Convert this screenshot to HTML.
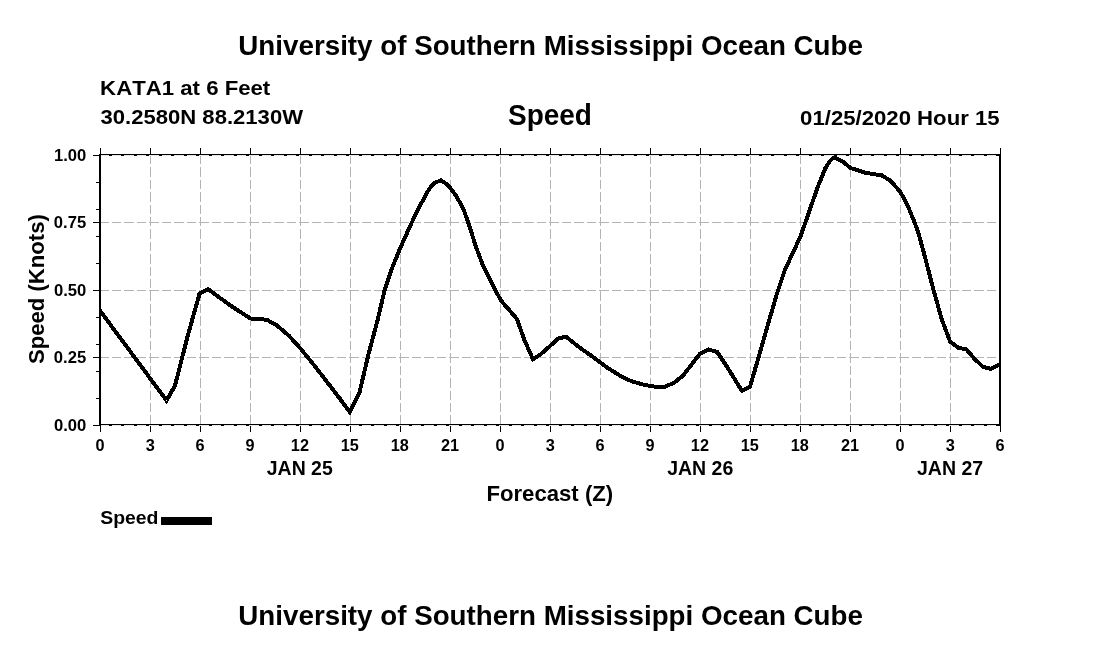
<!DOCTYPE html>
<html><head><meta charset="utf-8">
<style>
html,body{margin:0;padding:0;background:#fff;}
body{width:1100px;height:650px;overflow:hidden;position:relative;font-family:"Liberation Sans",sans-serif;}
svg{position:absolute;left:0;top:0;will-change:transform;}
text{font-family:"Liberation Sans",sans-serif;font-weight:bold;fill:#000;font-kerning:none;white-space:pre;}
.ax{shape-rendering:crispEdges;}
</style></head><body>
<svg width="1100" height="650" viewBox="0 0 1100 650">
<rect width="1100" height="650" fill="#fff"/>
<text id="t1" x="238.33" y="55" font-size="28.5" textLength="624.62" lengthAdjust="spacingAndGlyphs">University of Southern Mississippi Ocean Cube</text>
<text id="t2" x="238.33" y="624.9" font-size="28.5" textLength="624.62" lengthAdjust="spacingAndGlyphs">University of Southern Mississippi Ocean Cube</text>
<text id="l1" x="100.12" y="94.5" font-size="19.8" textLength="170.16" lengthAdjust="spacingAndGlyphs">KATA1 at 6 Feet</text>
<text id="l2" x="100.49" y="124.1" font-size="19.8" textLength="202.53" lengthAdjust="spacingAndGlyphs">30.2580N 88.2130W</text>
<text id="c1" transform="translate(507.99,125.1) scale(1,1.04)" font-size="28.5" textLength="83.95" lengthAdjust="spacingAndGlyphs">Speed</text>
<text id="r1" x="800.12" y="124.6" font-size="19.8" textLength="199.49" lengthAdjust="spacingAndGlyphs">01/25/2020 Hour 15</text>
<text id="yl" transform="translate(44.0,364.04) rotate(-90)" font-size="22" textLength="149.94" lengthAdjust="spacingAndGlyphs">Speed (Knots)</text>
<text id="xl" transform="translate(486.47,500.6) scale(1,1.04)" font-size="22" textLength="126.68" lengthAdjust="spacingAndGlyphs">Forecast (Z)</text>
<text id="lg" transform="translate(100.24,524.0) scale(1,1.06)" font-size="18" textLength="58.24" lengthAdjust="spacingAndGlyphs">Speed</text>
<g class="ax" stroke="#b4b4b4" stroke-width="1" fill="none">
<g stroke-dasharray="9.3 3.1">
<line x1="150.5" y1="155" x2="150.5" y2="425"/>
<line x1="200.5" y1="155" x2="200.5" y2="425"/>
<line x1="250.5" y1="155" x2="250.5" y2="425"/>
<line x1="300.5" y1="155" x2="300.5" y2="425"/>
<line x1="350.5" y1="155" x2="350.5" y2="425"/>
<line x1="400.5" y1="155" x2="400.5" y2="425"/>
<line x1="450.5" y1="155" x2="450.5" y2="425"/>
<line x1="500.5" y1="155" x2="500.5" y2="425"/>
<line x1="550.5" y1="155" x2="550.5" y2="425"/>
<line x1="600.5" y1="155" x2="600.5" y2="425"/>
<line x1="650.5" y1="155" x2="650.5" y2="425"/>
<line x1="700.5" y1="155" x2="700.5" y2="425"/>
<line x1="750.5" y1="155" x2="750.5" y2="425"/>
<line x1="800.5" y1="155" x2="800.5" y2="425"/>
<line x1="850.5" y1="155" x2="850.5" y2="425"/>
<line x1="900.5" y1="155" x2="900.5" y2="425"/>
<line x1="950.5" y1="155" x2="950.5" y2="425"/>
</g><g stroke-dasharray="9.4 3.1">
<line x1="99.2" y1="222.5" x2="1000" y2="222.5"/>
<line x1="99.2" y1="290.5" x2="1000" y2="290.5"/>
<line x1="99.2" y1="357.5" x2="1000" y2="357.5"/>
</g></g>
<g class="ax" fill="#000">
<rect x="99" y="154" width="902" height="2"/>
<rect x="99" y="424" width="902" height="2"/>
<rect x="99" y="154" width="2" height="272"/>
<rect x="999" y="154" width="2" height="272"/>
<rect x="100" y="148" width="1" height="6"/>
<rect x="100" y="425" width="1" height="7"/>
<rect x="150" y="148" width="1" height="6"/>
<rect x="150" y="425" width="1" height="7"/>
<rect x="200" y="148" width="1" height="6"/>
<rect x="200" y="425" width="1" height="7"/>
<rect x="250" y="148" width="1" height="6"/>
<rect x="250" y="425" width="1" height="7"/>
<rect x="300" y="148" width="1" height="6"/>
<rect x="300" y="425" width="1" height="7"/>
<rect x="350" y="148" width="1" height="6"/>
<rect x="350" y="425" width="1" height="7"/>
<rect x="400" y="148" width="1" height="6"/>
<rect x="400" y="425" width="1" height="7"/>
<rect x="450" y="148" width="1" height="6"/>
<rect x="450" y="425" width="1" height="7"/>
<rect x="500" y="148" width="1" height="6"/>
<rect x="500" y="425" width="1" height="7"/>
<rect x="550" y="148" width="1" height="6"/>
<rect x="550" y="425" width="1" height="7"/>
<rect x="600" y="148" width="1" height="6"/>
<rect x="600" y="425" width="1" height="7"/>
<rect x="650" y="148" width="1" height="6"/>
<rect x="650" y="425" width="1" height="7"/>
<rect x="700" y="148" width="1" height="6"/>
<rect x="700" y="425" width="1" height="7"/>
<rect x="750" y="148" width="1" height="6"/>
<rect x="750" y="425" width="1" height="7"/>
<rect x="800" y="148" width="1" height="6"/>
<rect x="800" y="425" width="1" height="7"/>
<rect x="850" y="148" width="1" height="6"/>
<rect x="850" y="425" width="1" height="7"/>
<rect x="900" y="148" width="1" height="6"/>
<rect x="900" y="425" width="1" height="7"/>
<rect x="950" y="148" width="1" height="6"/>
<rect x="950" y="425" width="1" height="7"/>
<rect x="1000" y="148" width="1" height="6"/>
<rect x="1000" y="425" width="1" height="7"/>
<rect x="96" y="425" width="3" height="1"/>
<rect x="96" y="398" width="3" height="1"/>
<rect x="96" y="371" width="3" height="1"/>
<rect x="96" y="344" width="3" height="1"/>
<rect x="96" y="317" width="3" height="1"/>
<rect x="96" y="290" width="3" height="1"/>
<rect x="96" y="263" width="3" height="1"/>
<rect x="96" y="236" width="3" height="1"/>
<rect x="96" y="209" width="3" height="1"/>
<rect x="96" y="182" width="3" height="1"/>
<rect x="96" y="155" width="3" height="1"/>
<rect x="93" y="425" width="6" height="1"/>
<rect x="93" y="357" width="6" height="1"/>
<rect x="93" y="290" width="6" height="1"/>
<rect x="93" y="222" width="6" height="1"/>
<rect x="93" y="155" width="6" height="1"/>
</g>
<g class="ax" stroke="#e8e8e8" stroke-width="1" stroke-dasharray="9.4 3.1" fill="none">
<line x1="101" y1="155.5" x2="999" y2="155.5" stroke-dashoffset="1.8"/>
<line x1="101" y1="425.5" x2="999" y2="425.5" stroke-dashoffset="1.8"/>
</g>
<text x="54.01" y="430.9" font-size="16.8" textLength="32.37" lengthAdjust="spacingAndGlyphs">0.00</text>
<text x="53.79" y="362.9" font-size="16.8" textLength="32.37" lengthAdjust="spacingAndGlyphs">0.25</text>
<text x="54.01" y="295.9" font-size="16.8" textLength="32.37" lengthAdjust="spacingAndGlyphs">0.50</text>
<text x="53.79" y="227.9" font-size="16.8" textLength="32.37" lengthAdjust="spacingAndGlyphs">0.75</text>
<text x="54.01" y="160.9" font-size="16.8" textLength="32.37" lengthAdjust="spacingAndGlyphs">1.00</text>
<text x="95.58" y="450.8" font-size="16.8" textLength="9.06" lengthAdjust="spacingAndGlyphs">0</text>
<text x="145.68" y="450.8" font-size="16.8" textLength="9.06" lengthAdjust="spacingAndGlyphs">3</text>
<text x="195.56" y="450.8" font-size="16.8" textLength="9.06" lengthAdjust="spacingAndGlyphs">6</text>
<text x="245.59" y="450.8" font-size="16.8" textLength="9.06" lengthAdjust="spacingAndGlyphs">9</text>
<text x="290.85" y="450.8" font-size="16.8" textLength="18.13" lengthAdjust="spacingAndGlyphs">12</text>
<text x="340.75" y="450.8" font-size="16.8" textLength="18.13" lengthAdjust="spacingAndGlyphs">15</text>
<text x="390.77" y="450.8" font-size="16.8" textLength="18.13" lengthAdjust="spacingAndGlyphs">18</text>
<text x="440.98" y="450.8" font-size="16.8" textLength="18.13" lengthAdjust="spacingAndGlyphs">21</text>
<text x="495.58" y="450.8" font-size="16.8" textLength="9.06" lengthAdjust="spacingAndGlyphs">0</text>
<text x="545.68" y="450.8" font-size="16.8" textLength="9.06" lengthAdjust="spacingAndGlyphs">3</text>
<text x="595.56" y="450.8" font-size="16.8" textLength="9.06" lengthAdjust="spacingAndGlyphs">6</text>
<text x="645.59" y="450.8" font-size="16.8" textLength="9.06" lengthAdjust="spacingAndGlyphs">9</text>
<text x="690.85" y="450.8" font-size="16.8" textLength="18.13" lengthAdjust="spacingAndGlyphs">12</text>
<text x="740.75" y="450.8" font-size="16.8" textLength="18.13" lengthAdjust="spacingAndGlyphs">15</text>
<text x="790.77" y="450.8" font-size="16.8" textLength="18.13" lengthAdjust="spacingAndGlyphs">18</text>
<text x="840.98" y="450.8" font-size="16.8" textLength="18.13" lengthAdjust="spacingAndGlyphs">21</text>
<text x="895.58" y="450.8" font-size="16.8" textLength="9.06" lengthAdjust="spacingAndGlyphs">0</text>
<text x="945.68" y="450.8" font-size="16.8" textLength="9.06" lengthAdjust="spacingAndGlyphs">3</text>
<text x="995.56" y="450.8" font-size="16.8" textLength="9.06" lengthAdjust="spacingAndGlyphs">6</text>
<text x="266.81" y="475" font-size="20" textLength="65.94" lengthAdjust="spacingAndGlyphs">JAN 25</text>
<text x="667.15" y="475" font-size="20" textLength="66.1" lengthAdjust="spacingAndGlyphs">JAN 26</text>
<text x="916.95" y="475" font-size="20" textLength="66.25" lengthAdjust="spacingAndGlyphs">JAN 27</text>
<polyline id="curve" fill="none" stroke="#000" stroke-width="4" stroke-linejoin="miter" stroke-miterlimit="3" shape-rendering="crispEdges" points="100,310.6 166.5,400.5 175,385.7 187.3,337.5 199.6,293.4 208.2,289.2 227.9,303.7 240,311.8 250.6,318.5 266.6,319.7 276.9,325.4 289.2,336 300.3,348.3 313.8,364.8 338.5,396.8 349.8,412 359.4,393 368,356.2 377.8,319.2 384.6,290.3 392,268.2 400.6,247.2 411.7,222.6 421.5,202.9 428.9,189.4 433.8,183.2 441.2,180.3 448.6,185.7 456,195.5 463.4,209 468.3,222.6 475.7,246 483,265.7 492.9,285.4 500.9,300.5 516.9,318.9 524.3,339.8 533,359.3 540.3,354.6 551.4,344.8 558.8,338.1 566.2,336.9 578.5,346.7 593.2,357.1 608,368.2 622.8,377.3 632.3,381.5 644.6,385 656.9,386.9 664.3,386.9 674.2,382.7 682.8,375.8 691.4,364.8 700,353.7 708.6,349.5 717.2,352 725.8,364.8 742,391 750,386.9 757.8,359.8 767.7,325.4 777.2,292.8 784.6,270.6 800.6,236.2 809.2,211.5 817.8,186.9 825.2,168.5 830.5,160.3 833.8,157.7 837.5,158.8 842.5,161.3 850.6,168 865.8,172.9 881.8,175.4 890.5,180.8 900.3,191.8 907.7,205.4 915.1,223.8 918.2,232.3 924.3,254.5 932.9,287.7 941.5,318.5 950.2,341.8 958.8,348 966.2,349.2 974.8,359.1 983,366.8 990.8,368.8 1000,364.4"/>
<rect class="ax" x="161" y="517" width="51" height="8" fill="#000"/>
</svg>
</body></html>
